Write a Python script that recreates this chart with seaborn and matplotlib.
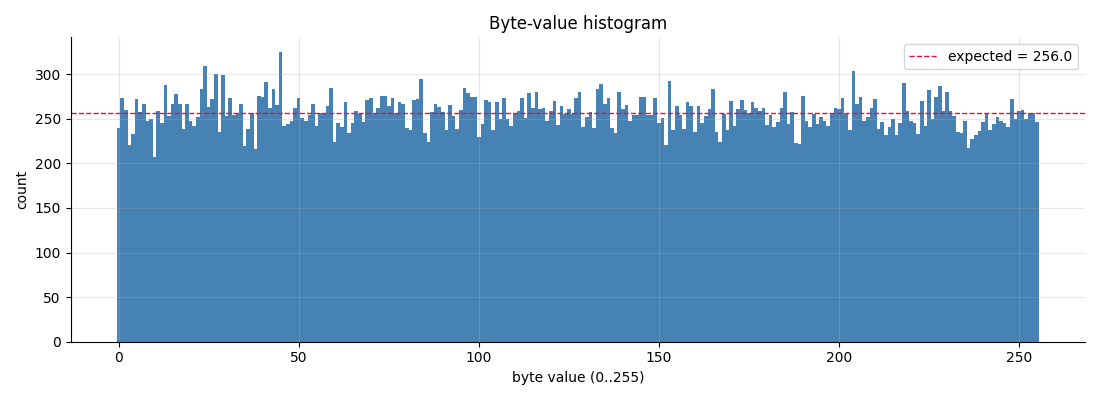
import numpy as np
import pandas as pd
import matplotlib
matplotlib.use("Agg")
import matplotlib.pyplot as plt
import seaborn as sns

# counts per byte value
byte_values = list(range(256))
counts = [
    240, 273, 260, 220, 233, 272, 258, 267, 247, 250, 207, 259, 245, 288, 253, 267,
    278, 266, 238, 267, 248, 242, 252, 283, 309, 263, 272, 300, 235, 299, 253, 273,
    254, 256, 266, 219, 238, 256, 216, 276, 274, 291, 262, 283, 265, 325, 242, 244,
    248, 262, 273, 251, 247, 254, 266, 242, 256, 256, 264, 284, 224, 245, 241, 269,
    234, 245, 259, 255, 246, 271, 273, 256, 262, 275, 276, 264, 273, 256, 269, 267,
    240, 237, 271, 272, 295, 234, 224, 257, 266, 263, 257, 237, 265, 253, 238, 260,
    285, 279, 274, 274, 230, 244, 271, 269, 237, 269, 250, 273, 250, 242, 256, 259,
    273, 251, 279, 262, 280, 261, 262, 248, 259, 270, 243, 264, 255, 261, 255, 273,
    280, 241, 252, 257, 240, 283, 289, 266, 273, 240, 234, 280, 261, 265, 248, 254,
    254, 274, 274, 254, 254, 273, 245, 251, 220, 292, 237, 264, 254, 238, 269, 264,
    235, 264, 245, 253, 261, 283, 235, 224, 255, 237, 270, 242, 261, 271, 260, 256,
    269, 262, 259, 262, 243, 254, 241, 246, 262, 280, 244, 257, 223, 222, 275, 247,
    241, 255, 244, 252, 247, 242, 256, 262, 261, 273, 255, 237, 303, 267, 274, 247,
    252, 262, 272, 238, 246, 232, 241, 250, 232, 245, 290, 259, 247, 245, 233, 270,
    242, 282, 250, 274, 287, 259, 280, 259, 253, 235, 234, 248, 217, 227, 232, 236,
    246, 256, 237, 244, 252, 247, 245, 241, 272, 250, 259, 260, 250, 256, 256, 246,
]
expected = 256.0

df = pd.DataFrame({"byte": byte_values, "count": counts})

fig, ax = plt.subplots(figsize=(11, 4), dpi=100)
sns.histplot(data=df, x="byte", weights="count", discrete=True, shrink=1,
             color="steelblue", alpha=1, linewidth=0, ax=ax)
ax.axhline(expected, color="crimson", linestyle="--", linewidth=1,
           label=f"expected = {expected}")

ax.set_title("Byte-value histogram", fontsize=12)
ax.set_xlabel("byte value (0..255)")
ax.set_ylabel("count")
ax.grid(alpha=0.3)
ax.spines["top"].set_visible(False)
ax.spines["right"].set_visible(False)
ax.legend(loc="upper right")

plt.tight_layout()
plt.savefig("out.png", dpi=100)
